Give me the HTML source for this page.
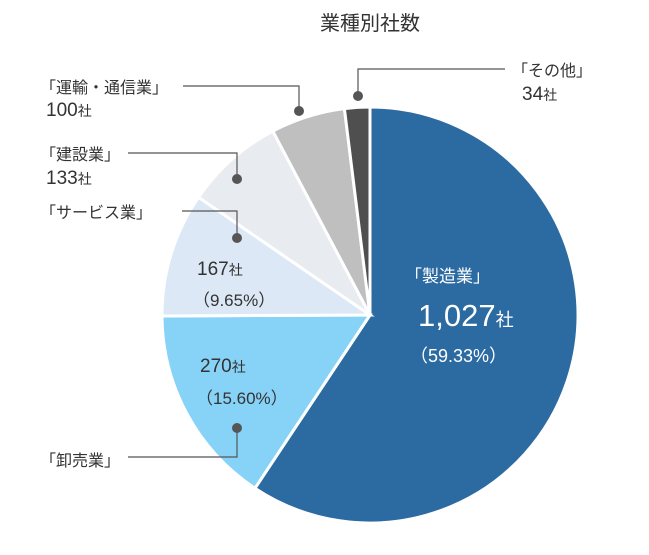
<!DOCTYPE html>
<html><head><meta charset="utf-8"><style>
body{margin:0;background:#fff;}
svg text{font-family:"Liberation Sans","Noto Sans CJK JP",sans-serif;fill:#333;}
</style></head><body>
<svg width="649" height="550" viewBox="0 0 649 550" xmlns="http://www.w3.org/2000/svg">
<text x="370" y="30" font-size="20" text-anchor="middle">業種別社数</text>
<g id="slices"></g>
<g stroke="#555" stroke-width="1.2" fill="none">
<polyline points="183,86 299,86 299,111"/>
<polyline points="128,153 237,153 237,179"/>
<polyline points="182,211 237,211 237,238"/>
<polyline points="128,457 237,457 237,428"/>
<polyline points="505,69 358,69 358,96"/>
</g>
<g fill="#555">
<circle cx="299" cy="111" r="5"/><circle cx="237" cy="179" r="5"/><circle cx="237" cy="238" r="5"/><circle cx="237" cy="428" r="5"/><circle cx="358" cy="96" r="5"/>
</g>
<g font-size="16">
<text x="40" y="93">「運輸・通信業」</text>
<text x="46" y="116" font-size="19">100<tspan font-size="14">社</tspan></text>
<text x="40" y="160">「建設業」</text>
<text x="46" y="184" font-size="19">133<tspan font-size="14">社</tspan></text>
<text x="40" y="218">「サービス業」</text>
<text x="40" y="466">「卸売業」</text>
<text x="512" y="76">「その他」</text>
<text x="522" y="100" font-size="19">34<tspan font-size="14">社</tspan></text>
<text x="197" y="275" font-size="19">167<tspan font-size="14">社</tspan></text>
<text x="193" y="306" font-size="17">（9.65%）</text>
<text x="200" y="372" font-size="19">270<tspan font-size="14">社</tspan></text>
<text x="196" y="404" font-size="17">（15.60%）</text>
<text x="405" y="282" font-size="17" style="fill:#fff">「製造業」</text>
<text x="418" y="326" font-size="31" style="fill:#fff">1,027<tspan font-size="18">社</tspan></text>
<text x="410" y="362" font-size="18" style="fill:#fff">（59.33%）</text>
</g>
</svg>
<script>
const categories=["製造業","卸売業","サービス業","建設業","運輸・通信業","その他"];
const values=[1027,270,167,133,100,34];
const colors=["#2c6aa2","#87d3f7","#dce8f5","#e8ebef","#bfbfbf","#4f4f4f"];
const cx=370,cy=315,r=208;
const g=document.getElementById('slices');
const total=values.reduce((a,b)=>a+b,0);
let a0=0;
values.forEach((v,i)=>{
  const a1=a0+v/total*2*Math.PI;
  const x0=cx+r*Math.sin(a0),y0=cy-r*Math.cos(a0),x1=cx+r*Math.sin(a1),y1=cy-r*Math.cos(a1);
  const p=document.createElementNS('http://www.w3.org/2000/svg','path');
  p.setAttribute('d',`M${cx},${cy}L${x0},${y0}A${r},${r} 0 ${a1-a0>Math.PI?1:0} 1 ${x1},${y1}Z`);
  p.setAttribute('fill',colors[i]);p.setAttribute('stroke','#fff');p.setAttribute('stroke-width','3');
  
  
  g.appendChild(p);a0=a1;
});
</script>
</body></html>
